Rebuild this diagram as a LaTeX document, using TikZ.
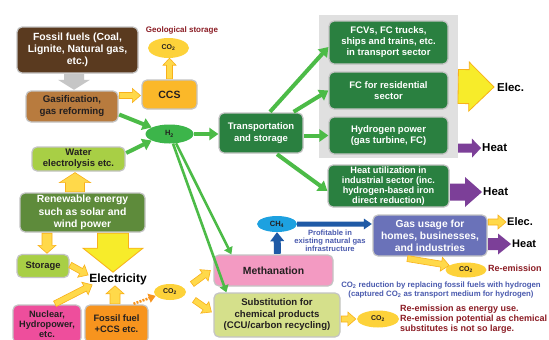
\documentclass[tikz,border=0pt]{standalone}
\usepackage{fontspec}
\setmainfont{Liberation Sans}
\usetikzlibrary{calc,shapes.geometric,arrows.meta}
\definecolor{brownD}{HTML}{5A3A1F}
\definecolor{brownL}{HTML}{B87B3E}
\definecolor{ccsor}{HTML}{FBB829}
\definecolor{co2y}{HTML}{FDD23A}
\definecolor{h2g}{HTML}{3CB54A}
\definecolor{dgreen}{HTML}{2A8040}
\definecolor{arrgreen}{HTML}{4CBB47}
\definecolor{panelgray}{HTML}{E0E0E0}
\definecolor{boxgray}{HTML}{C4C4C4}
\definecolor{watg}{HTML}{A8CF45}
\definecolor{reng}{HTML}{5E8B3B}
\definecolor{nucpink}{HTML}{EE4E9C}
\definecolor{metpink}{HTML}{F39AC2}
\definecolor{fosor}{HTML}{F7941E}
\definecolor{subg}{HTML}{D5E08B}
\definecolor{ch4b}{HTML}{1DA1E0}
\definecolor{blarr}{HTML}{1F5AA6}
\definecolor{gasb}{HTML}{6A72B9}
\definecolor{purp}{HTML}{7C3F98}
\definecolor{yfill}{HTML}{FFD94A}
\definecolor{yborder}{HTML}{F8B11B}
\definecolor{efill}{HTML}{F7EC2A}
\definecolor{dred}{HTML}{8B1C24}
\definecolor{btext}{HTML}{4A5AAE}
\definecolor{grayarrow}{HTML}{C6C6C6}
\definecolor{txtdark}{HTML}{231F20}
\newcommand\myfs[2]{\fontsize{#1}{#2}\selectfont}
% block arrow: style, from, to, half shaft, half head, head length
\newcommand\blockarr[6]{%
  \coordinate (baA) at (#2);
  \coordinate (baB) at (#3);
  \coordinate (baC) at ($(baB)!#6!(baA)$);
  \draw[#1] ($(baA)!#4!90:(baB)$) -- ($(baC)!#4!-90:(baA)$) -- ($(baC)!#5!-90:(baA)$)
    -- (baB) -- ($(baC)!#5!90:(baA)$) -- ($(baC)!#4!90:(baA)$) -- ($(baA)!#4!-90:(baB)$) -- cycle;
}
\tikzset{
  box/.style={draw=boxgray, line width=1.2pt, rounded corners=5pt, align=center, inner sep=0pt, text=txtdark},
  wbox/.style={box, text=white},
  ell/.style={ellipse, inner sep=0pt, text=txtdark, font=\bfseries\myfs{7}{8}},
  garr/.style={draw=arrgreen, line width=4pt, -{Triangle[length=9pt,width=12pt]}},
  garrthin/.style={draw=arrgreen, line width=2.6pt, -{Triangle[length=7pt,width=9pt]}},
  yarr/.style={fill=yfill, draw=yborder, line width=0.6pt},
  earr/.style={fill=efill, draw=yborder, line width=0.8pt},
  grayarr/.style={fill=grayarrow, draw=none},
  parr/.style={fill=purp, draw=none},
  barr/.style={fill=blarr, draw=none},
  oarr/.style={draw=fosor, line width=2.5pt, dash pattern=on 2pt off 1.2pt, -{Triangle[length=7pt,width=9pt]}},
  lbl/.style={inner sep=0pt, font=\bfseries\myfs{11.5}{13}, text=black}
}
\begin{document}
\begin{tikzpicture}[x=1pt,y=-1pt]
\useasboundingbox (0,0) rectangle (549,340);
\fill[white] (0,0) rectangle (549,340);
% panel
\node[fill=panelgray, minimum width=139pt, minimum height=143pt, inner sep=0pt] (panel) at (388.5,86.5) {};
% boxes
\node[wbox, fill=brownD, minimum width=121pt, minimum height=46pt, font=\bfseries\myfs{10.4}{12}] (fossil) at (77.5,50) {Fossil fuels (Coal,\\Lignite, Natural gas,\\etc.)};
\node[box, fill=brownL, minimum width=92pt, minimum height=31pt, font=\bfseries\myfs{9.7}{12}] (gasif) at (72,106.5) {Gasification,\\gas reforming};
\node[box, fill=ccsor, minimum width=55pt, minimum height=29pt, font=\bfseries\myfs{10.5}{12}] (ccs) at (169.5,94.5) {CCS};
\node[ell, fill=co2y, minimum width=41pt, minimum height=20pt] (co2a) at (168.5,48) {CO\textsubscript{2}};
\node[inner sep=0pt, text=dred, font=\bfseries\myfs{8}{9}] (geo) at (182,30) {Geological storage};
\node[ell, fill=h2g, minimum width=48pt, minimum height=19pt, font=\bfseries\myfs{7.5}{8}] (h2) at (169.5,134) {H\textsubscript{2}};
\node[wbox, fill=dgreen, minimum width=84pt, minimum height=40pt, font=\bfseries\myfs{9.5}{12}] (transport) at (261,133) {Transportation\\and storage};
\node[wbox, fill=dgreen, minimum width=119pt, minimum height=43pt, font=\bfseries\myfs{9.5}{11}] (fc1) at (388.5,42.5) {FCVs, FC trucks,\\ships and trains, etc.\\in transport sector};
\node[wbox, fill=dgreen, minimum width=119pt, minimum height=37pt, font=\bfseries\myfs{9.5}{11}] (fc2) at (388.5,90.5) {FC for residential\\sector};
\node[wbox, fill=dgreen, minimum width=119pt, minimum height=37pt, font=\bfseries\myfs{9.5}{11}] (fc3) at (388.5,135.5) {Hydrogen power\\(gas turbine, FC)};
\node[wbox, fill=dgreen, minimum width=121pt, minimum height=42pt, font=\bfseries\myfs{9.2}{10}] (heatind) at (388.5,186) {Heat utilization in\\industrial sector (inc.\\hydrogen-based iron\\direct reduction)};
\node[box, fill=watg, minimum width=93pt, minimum height=24pt, font=\bfseries\myfs{9.5}{11}] (water) at (78.5,159) {Water\\electrolysis etc.};
\node[wbox, fill=reng, minimum width=125pt, minimum height=39pt, font=\bfseries\myfs{10.4}{12.5}] (renew) at (82.5,212.5) {Renewable energy\\such as solar and\\wind power};
\node[box, fill=watg, minimum width=52pt, minimum height=23pt, font=\bfseries\myfs{9.4}{11}] (storage) at (43,266) {Storage};
\node[inner sep=1pt, text=black, font=\bfseries\myfs{12}{13}] (electext) at (118,279) {Electricity};
\node[box, fill=nucpink, minimum width=68pt, minimum height=38pt, font=\bfseries\myfs{9.2}{10}] (nuclear) at (47,324) {Nuclear,\\Hydropower,\\etc.};
\node[box, fill=fosor, minimum width=63pt, minimum height=38pt, font=\bfseries\myfs{9.3}{11}] (fossilccs) at (116.5,324) {Fossil fuel\\+CCS etc.};
\node[ell, fill=co2y, minimum width=32pt, minimum height=16pt] (co2b) at (170,292) {CO\textsubscript{2}};
\node[box, fill=metpink, minimum width=119pt, minimum height=31pt, font=\bfseries\myfs{10.4}{12}] (methanation) at (273.5,270.5) {Methanation};
\node[box, fill=subg, minimum width=126pt, minimum height=44pt, font=\bfseries\myfs{9.6}{11.5}] (subst) at (277,315) {Substitution for\\chemical products\\(CCU/carbon recycling)};
\node[ell, fill=ch4b, minimum width=40pt, minimum height=16pt, font=\bfseries\myfs{7.5}{8}] (ch4) at (277,224) {CH\textsubscript{4}};
\node[inner sep=0pt, text=btext, align=center, font=\bfseries\myfs{7.6}{8}] (profit) at (330,241) {Profitable in\\existing natural gas\\infrastructure};
\node[wbox, fill=gasb, minimum width=114pt, minimum height=41pt, font=\bfseries\myfs{10.3}{12}] (gasusage) at (430,235.5) {Gas usage for\\homes, businesses,\\and industries};
\node[ell, fill=co2y, minimum width=41pt, minimum height=15pt] (co2d) at (466,270) {CO\textsubscript{2}};
\node[ell, fill=co2y, minimum width=42pt, minimum height=17pt] (co2c) at (378,319) {CO\textsubscript{2}};
\node[inner sep=0pt, text=dred, anchor=west, font=\bfseries\myfs{9}{10}] (reemit) at (488,268) {Re-emission};
\node[inner sep=0pt, text=btext, align=center, font=\bfseries\myfs{7.8}{8.5}] (co2red) at (441,290) {CO\textsubscript{2} reduction by replacing fossil fuels with hydrogen\\(captured CO\textsubscript{2} as transport medium for hydrogen)};
\node[inner sep=0pt, text=dred, align=left, anchor=north west, font=\bfseries\myfs{9}{10}] (note) at (400,304.5) {Re-emission as energy use.\\Re-emission potential as chemical\\substitutes is not so large.};
\node[lbl, anchor=west] (elec1) at (497,87) {Elec.};
\node[lbl, anchor=west] (heat1) at (482,148) {Heat};
\node[lbl, anchor=west] (heat2) at (483,192) {Heat};
\node[lbl, anchor=west, font=\bfseries\myfs{11}{12}] (elec2) at (507,222) {Elec.};
\node[lbl, anchor=west, font=\bfseries\myfs{11}{12}] (heat3) at (512,244) {Heat};
% gray and yellow block arrows
\blockarr{grayarr}{$(fossil.south)+(-3.5,0.6)$}{$(gasif.north)+(2,-0.6)$}{10pt}{16pt}{10pt}
\blockarr{yarr}{$(gasif.east)+(0.6,-11)$}{$(ccs.west)+(-1,1)$}{3pt}{7pt}{8pt}
\blockarr{yarr}{$(ccs.north)+(0,-0.6)$}{$(co2a.south)+(1,0)$}{3pt}{6.5pt}{7pt}
\blockarr{yarr}{$(renew.north)+(-7.5,-0.6)$}{$(water.south)+(-3.5,1)$}{9.5pt}{15.5pt}{10pt}
\blockarr{yarr}{$(storage.north |- renew.south)+(4,0.6)$}{$(storage.north)+(4,-0.6)$}{5pt}{9pt}{8pt}
\blockarr{earr}{$(renew.south)+(30.5,0.6)$}{$(electext.north)+(-5,0)$}{15.5pt}{30pt}{24pt}
\blockarr{yarr}{$(storage.east)+(0.6,-1)$}{$(electext.west)+(0,-4)$}{3pt}{7pt}{8pt}
\blockarr{yarr}{$(nuclear.north)+(8,-0.6)$}{$(electext.south west)+(4,-1)$}{3pt}{7pt}{8pt}
\blockarr{yarr}{$(fossilccs.north)+(-1.5,-0.6)$}{$(electext.south)+(-3,0)$}{5pt}{9pt}{8pt}
\blockarr{yarr}{$(co2b.east)+(6,-8)$}{$(methanation.west)+(-3,0)$}{3pt}{7pt}{8pt}
\blockarr{yarr}{$(co2b.east)+(8,8)$}{$(subst.west)+(-2,-3)$}{3pt}{7pt}{8pt}
\blockarr{yarr}{$(subst.east |- co2c.west)+(0.6,0)$}{$(co2c.west)+(-1,0)$}{3pt}{7pt}{8pt}
\blockarr{yarr}{$(gasusage.south west)+(35,2)$}{co2d.165}{3pt}{7pt}{8pt}
\blockarr{yarr}{$(gasusage.east)+(0.6,-13.5)$}{$(elec2.west)+(-1,0)$}{3pt}{7pt}{8pt}
\blockarr{earr}{panel.east}{$(elec1.west)+(-3,0)$}{17pt}{24.5pt}{25pt}
% purple
\blockarr{parr}{$(panel.south east)+(0,-10)$}{$(heat1.west)+(-1,0)$}{4.5pt}{9.5pt}{9pt}
\blockarr{parr}{$(heatind.east)+(0.6,6)$}{$(heat2.west)+(-1,0)$}{8.5pt}{15pt}{17pt}
\blockarr{parr}{$(gasusage.east)+(0.6,8.5)$}{$(heat3.west)+(-1,0)$}{6pt}{10.5pt}{13pt}
% blue
\blockarr{barr}{$(methanation.north)+(4,-0.6)$}{ch4.south}{3.5pt}{7pt}{9pt}
\blockarr{barr}{ch4.east}{$(gasusage.west |- ch4.east)+(-0.6,0)$}{2.5pt}{5.5pt}{8pt}
% orange dashed
\draw[oarr] ($(fossilccs.north)+(17,-0.6)$) -- (co2b.195);
% green arrows
\draw[garr] ($(gasif.east)+(0.6,8)$) -- (h2.160);
\draw[garr] ($(water.east)+(0.6,-6)$) -- (h2.200);
\draw[garr] (h2.east) -- (transport.west |- h2.east);
\draw[garr] ($(transport.north)+(9,-0.6)$) -- ($(fc1.west)+(0,4.5)$);
\draw[garr] ($(transport.north east)+(-10,-0.6)$) -- (fc2.west);
\draw[garr] ($(transport.east |- fc3.west)+(0.6,0)$) -- (fc3.west);
\draw[garr] ($(transport.south)+(16,0.6)$) -- ($(heatind.west)+(0,5)$);
\draw[garrthin] (h2.-55) -- ($(methanation.north west)+(18,0)$);
\draw[garrthin] (h2.-70) -- ($(subst.north west)+(13,0)$);
\end{tikzpicture}
\end{document}
